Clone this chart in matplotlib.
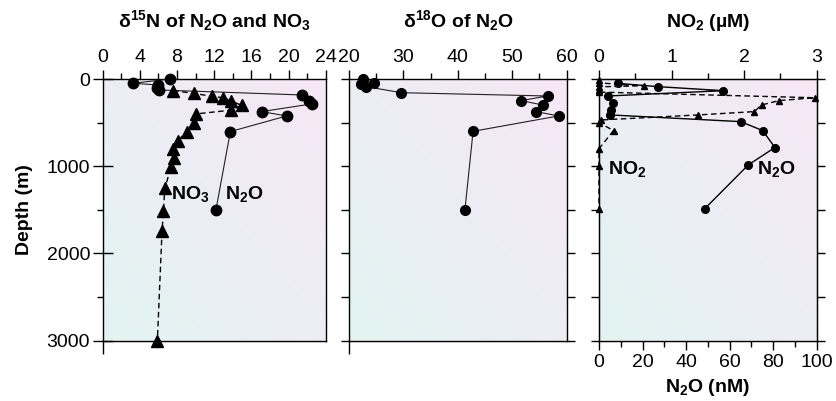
import numpy as np
import matplotlib
matplotlib.use('Agg')
import matplotlib.pyplot as plt
from matplotlib.ticker import MultipleLocator

plt.rcParams['font.family'] = ['Liberation Sans', 'DejaVu Sans']
plt.rcParams['mathtext.default'] = 'regular'

# panel 1: d15N of N2O and NO3 (per mil) vs depth (m)
n2o_15n_depth = [0, 49, 69, 100, 126, 183, 248, 286, 374, 424, 603, 1500]
n2o_15n = [7.3, 3.3, 6.0, 5.9, 6.1, 21.4, 22.2, 22.5, 17.1, 19.8, 13.75, 12.2]
no3_15n_depth = [134, 164, 200, 215, 252, 303, 358, 400, 508, 603, 706, 805, 908, 1004, 1252, 1520, 1749, 3000]
no3_15n = [7.6, 9.8, 11.8, 13.0, 13.8, 15.0, 13.8, 10.1, 9.8, 9.1, 8.1, 7.6, 7.7, 7.4, 6.7, 6.55, 6.4, 5.9]

# panel 2: d18O of N2O
n2o_18o_depth = [4, 42, 57, 88, 157, 195, 248, 298, 374, 424, 600, 1500]
n2o_18o = [22.6, 24.6, 22.2, 23.2, 29.6, 56.5, 51.6, 55.6, 54.4, 58.5, 42.8, 41.3]

# panel 3: N2O (nM) and NO2 (uM)
n2o_conc_depth = [50, 88, 134, 195, 280, 360, 412, 489, 592, 786, 985, 1490]
n2o_conc = [8.6, 27.2, 57.1, 4.0, 6.5, 5.5, 5.0, 65.1, 75.2, 80.8, 68.6, 48.5]
no2_depth = [10, 45, 77, 90, 125, 150, 215, 248, 298, 374, 412, 470, 500, 592, 800, 995, 1490]
no2_conc = [0, 0, 0.62, 0, 0, 0, 2.97, 2.48, 2.24, 2.14, 1.37, 0.03, 0, 0.2, 0, 0, 0]

depth_ticks = [0, 1000, 2000, 3000]

fig = plt.figure(figsize=(8.36, 4.01), dpi=100)
W, H = 836, 401
top, bot = 79, 340.5


def make_ax(x0, x1):
    return fig.add_axes([x0 / W, (H - bot) / H, (x1 - x0) / W, (bot - top) / H])


ax1 = make_ax(102.5, 325.7)
ax2 = make_ax(349, 566.7)
ax3 = make_ax(599, 816.7)

# soft gradient background, cyan bottom-left to pink top-right
c_bl = np.array([226, 244, 242]) / 255
c_tr = np.array([247, 231, 246]) / 255
xx, yy = np.meshgrid(np.linspace(0, 1, 64), np.linspace(0, 1, 64))
t = ((xx + yy) / 2)[..., None]
grad = c_bl * (1 - t) + c_tr * t
for ax in (ax1, ax2, ax3):
    ax.imshow(grad, extent=[0, 1, 0, 1], transform=ax.transAxes, origin='lower',
              aspect='auto', zorder=0, interpolation='bicubic')
    ax.set_ylim(3000, 0)
    for s in ax.spines.values():
        s.set_linewidth(1.0)

fs_tick = 14
fs_lab = 14

# ---- panel 1
ax1.plot(n2o_15n, n2o_15n_depth, '-', color='#222222', lw=0.8,
         marker='o', ms=7.5, mfc='black', mec='black', clip_on=False, zorder=3)
ax1.plot(no3_15n, no3_15n_depth, '--', color='black', lw=1.0, dashes=(4, 2.5),
         marker='^', ms=8, mfc='black', mec='black', clip_on=False, zorder=3)
ax1.set_xlim(0, 24)
ax1.xaxis.set_major_locator(MultipleLocator(4))
ax1.xaxis.set_minor_locator(MultipleLocator(2))
ax1.text(7.4, 1320, 'NO$_3$', fontsize=fs_lab, fontweight='bold', ha='left', va='center')
ax1.text(13.2, 1320, 'N$_2$O', fontsize=fs_lab, fontweight='bold', ha='left', va='center')
ax1.text(0.5, 1.198, '\u03b4$^{15}$N of N$_2$O and NO$_3$', transform=ax1.transAxes,
         ha='center', va='baseline', fontsize=fs_lab, fontweight='bold')
ax1.set_ylabel('Depth (m)', fontsize=fs_lab, fontweight='bold', labelpad=10)
ax1.set_yticks(depth_ticks)
ax1.yaxis.set_minor_locator(MultipleLocator(500))
ax1.tick_params(axis='y', which='major', direction='inout', length=14, width=1,
                labelsize=fs_tick, pad=2, left=True, right=False)
ax1.tick_params(axis='y', which='minor', direction='out', length=4.5, width=1,
                left=True, right=False)

# ---- panel 2
ax2.plot(n2o_18o, n2o_18o_depth, '-', color='#222222', lw=0.8,
         marker='o', ms=7, mfc='black', mec='black', clip_on=False, zorder=3)
ax2.set_xlim(20, 60)
ax2.xaxis.set_major_locator(MultipleLocator(10))
ax2.xaxis.set_minor_locator(MultipleLocator(5))
ax2.text(0.5, 1.198, '\u03b4$^{18}$O of N$_2$O', transform=ax2.transAxes,
         ha='center', va='baseline', fontsize=fs_lab, fontweight='bold')

# ---- panel 3
ax3.plot(n2o_conc, n2o_conc_depth, '-', color='black', lw=1.0,
         marker='o', ms=5.5, mfc='black', mec='black', clip_on=False, zorder=3)
ax3.set_xlim(0, 100)
ax3.xaxis.set_major_locator(MultipleLocator(20))
ax3.xaxis.set_minor_locator(MultipleLocator(10))
ax3.tick_params(axis='x', which='both', direction='out', top=False, bottom=True,
                labeltop=False, labelbottom=True)
ax3.tick_params(axis='x', which='major', length=6.5, width=1, labelsize=fs_tick, pad=3)
ax3.tick_params(axis='x', which='minor', length=4, width=1)
ax3.text(0.5, -0.197, 'N$_2$O (nM)', transform=ax3.transAxes,
         ha='center', va='baseline', fontsize=fs_lab, fontweight='bold')
ax3.text(4.3, 1035, 'NO$_2$', fontsize=fs_lab, fontweight='bold', ha='left', va='center')
ax3.text(72.4, 1035, 'N$_2$O', fontsize=fs_lab, fontweight='bold', ha='left', va='center')

ax3t = ax3.twiny()
ax3t.plot(no2_conc, no2_depth, '--', color='black', lw=1.0, dashes=(4, 2.5),
          marker='^', ms=4.5, mfc='black', mec='black', clip_on=False, zorder=3)
ax3t.set_xlim(0, 3)
ax3t.set_ylim(3000, 0)
ax3t.xaxis.set_major_locator(MultipleLocator(1))
ax3t.xaxis.set_minor_locator(MultipleLocator(0.5))
ax3t.tick_params(axis='x', which='both', direction='out', top=True, bottom=False,
                 labeltop=True, labelbottom=False)
ax3t.tick_params(axis='x', which='major', length=6.5, width=1, labelsize=fs_tick, pad=2.5)
ax3t.tick_params(axis='x', which='minor', length=4.5, width=1)
ax3t.text(0.5, 1.198, 'NO$_2$ (\u00b5M)', transform=ax3t.transAxes,
          ha='center', va='baseline', fontsize=fs_lab, fontweight='bold')

# top x axes for panels 1 and 2, plus the corner tick below
for ax in (ax1, ax2):
    ax.tick_params(axis='x', which='both', direction='out', top=True, bottom=False,
                   labeltop=True, labelbottom=False)
    ax.tick_params(axis='x', which='major', length=6.5, width=1, labelsize=fs_tick, pad=2.5)
    ax.tick_params(axis='x', which='minor', length=4.5, width=1)
    sec = ax.secondary_xaxis('bottom')
    sec.set_xticks([ax.get_xlim()[0]])
    sec.set_xticklabels([])
    sec.tick_params(direction='out', length=9, width=1)

# y ticks for panels 2 and 3: both sides, outward, no labels
for ax in (ax2, ax3):
    ax.set_yticks(depth_ticks)
    ax.yaxis.set_minor_locator(MultipleLocator(500))
    ax.tick_params(axis='y', which='both', direction='out', length=5.5, width=1,
                   left=True, right=True, labelleft=False)

fig.savefig('out.png', dpi=100)
